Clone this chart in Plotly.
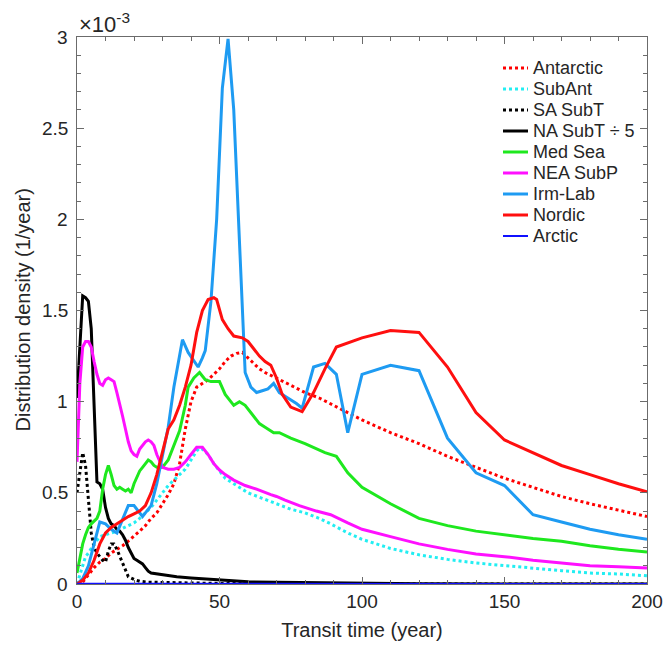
import plotly.graph_objects as go

# ---- data (values in units of 1e-3 per year) ----
antarctic_x = [0,2,4,6,8,10,12,14,16,18,20,22,24,26,28,30,32,34,36,38,40,42,44,46,48,50,52,54,56,58,60,62,64,66,70,75,80,85,90,100,110,120,130,140,150,160,170,180,190,200]
antarctic_y = [0,0.01,0.05,0.09,0.12,0.14,0.17,0.19,0.21,0.235,0.26,0.29,0.32,0.36,0.39,0.44,0.49,0.55,0.66,0.85,1.0,1.08,1.1,1.12,1.15,1.18,1.22,1.25,1.265,1.27,1.24,1.21,1.18,1.16,1.13,1.09,1.05,1.02,0.98,0.9,0.83,0.77,0.7,0.64,0.58,0.53,0.48,0.44,0.405,0.37]

subant_x = [0,1,2,3,4,6,8,10,12,14,16,18,20,22,24,26,28,30,32,34,36,38,40,42,43,44,46,48,50,52,55,60,65,70,75,80,85,89,95,100,110,120,130,140,150,160,170,180,190,200]
subant_y = [0,0.05,0.1,0.15,0.17,0.22,0.26,0.27,0.28,0.29,0.305,0.32,0.335,0.36,0.39,0.42,0.46,0.5,0.54,0.57,0.6,0.63,0.68,0.73,0.745,0.74,0.71,0.66,0.62,0.58,0.55,0.5,0.47,0.44,0.41,0.39,0.36,0.33,0.28,0.245,0.195,0.16,0.135,0.115,0.1,0.085,0.073,0.06,0.055,0.045]

sasubt_x = [0,1,2,3,4,5,6,7,8,9,10,11,12,13,14,15,16,17,18,20,22,25,30,40,50,70,100,200]
sasubt_y = [0.5,0.62,0.72,0.65,0.45,0.28,0.2,0.17,0.15,0.13,0.12,0.18,0.22,0.22,0.19,0.15,0.11,0.07,0.04,0.025,0.015,0.01,0.008,0.005,0.003,0.001,0,0]

nasubt_x = [0,1,2,3,4,5,6,7,8,9,10,11,12,13,14,15,16,17,18,19,20,21,22,23,24,25,26,28,30,35,40,45,50,60,70,80,90,100,110,120,150,200]
nasubt_y = [1.02,1.3,1.58,1.57,1.55,1.4,0.95,0.56,0.55,0.52,0.42,0.36,0.33,0.32,0.3,0.29,0.27,0.24,0.2,0.17,0.14,0.13,0.12,0.11,0.09,0.07,0.06,0.055,0.05,0.04,0.033,0.028,0.02,0.012,0.01,0.008,0.008,0.005,0.002,0.001,0,0]

med_x = [0,1,2,3,4,5,6,7,8,9,10,11,12,13,14,15,16,17,18,19,20,21,22,23,24,25,26,27,28,30,32,34,36,38,39,41,43,45,47,50,52,55,57,59,62,64,66,69,71,75,80,83,87,91,95,100,110,120,130,140,150,160,170,180,190,200]
med_y = [0.06,0.15,0.22,0.27,0.31,0.33,0.345,0.36,0.4,0.52,0.6,0.65,0.6,0.54,0.52,0.53,0.52,0.51,0.52,0.5,0.55,0.59,0.62,0.64,0.66,0.68,0.67,0.65,0.64,0.64,0.68,0.76,0.84,0.98,1.08,1.13,1.16,1.12,1.11,1.11,1.04,0.98,1.0,0.98,0.92,0.88,0.86,0.83,0.83,0.8,0.77,0.75,0.72,0.7,0.61,0.53,0.44,0.36,0.32,0.29,0.27,0.25,0.235,0.21,0.19,0.175]

neasubp_x = [0,1,2,3,4,5,6,7,8,9,10,11,12,13,14,15,16,17,18,19,20,21,22,24,25,26,27,28,29,30,32,34,36,38,40,42,44,46,48,50,52,55,59,63,68,70,73,78,84,89,95,100,110,120,130,140,150,160,170,180,190,200]
neasubp_y = [0.67,1.1,1.3,1.33,1.33,1.3,1.22,1.15,1.1,1.09,1.12,1.13,1.12,1.11,1.05,0.99,0.92,0.85,0.78,0.73,0.71,0.7,0.74,0.78,0.79,0.78,0.76,0.71,0.67,0.64,0.63,0.63,0.64,0.67,0.71,0.75,0.75,0.71,0.66,0.625,0.6,0.57,0.54,0.52,0.49,0.48,0.46,0.43,0.4,0.38,0.335,0.3,0.26,0.22,0.19,0.165,0.15,0.13,0.115,0.1,0.095,0.088]

irm_x = [0,2,4,6,8,10,12,14,16,18,20,22,23,24,26,28,30,32,34,36,37,39,41,42.5,44,45,47,49,51,53,55,57,59,61,63,65,67,69,71,73,75,77,79,83,87,91,95,100,110,120,130,140,150,160,170,180,190,200]
irm_y = [0,0.03,0.1,0.22,0.34,0.33,0.3,0.28,0.36,0.43,0.43,0.39,0.37,0.39,0.43,0.55,0.7,0.86,1.08,1.27,1.34,1.27,1.22,1.19,1.24,1.28,1.55,2.0,2.72,2.99,2.6,1.85,1.16,1.08,1.05,1.06,1.07,1.1,1.05,1.03,1.01,0.99,0.965,1.19,1.21,1.15,0.83,1.15,1.2,1.17,0.8,0.61,0.54,0.38,0.34,0.3,0.27,0.245]

nordic_x = [0,2,4,6,8,10,12,14,16,18,20,22,24,26,28,30,32,34,36,38,40,42,44,46,48,49,51,53,55,58,60,62,64,66,68,70,72,75,79,83,87,91,100,110,120,130,140,150,160,170,180,190,200]
nordic_y = [0,0.02,0.06,0.13,0.22,0.28,0.31,0.33,0.35,0.37,0.385,0.4,0.43,0.5,0.6,0.72,0.85,0.9,0.98,1.08,1.2,1.38,1.5,1.56,1.57,1.56,1.45,1.4,1.36,1.35,1.33,1.29,1.25,1.22,1.2,1.13,1.04,0.97,0.945,1.05,1.18,1.3,1.35,1.39,1.38,1.19,0.94,0.79,0.72,0.65,0.6,0.55,0.505]

arctic_x = [0,50,100,150,200]
arctic_y = [0.002,0.001,0.001,0.0,0.0]

x_ticks = [0, 50, 100, 150, 200]
y_ticks = [0, 0.5, 1, 1.5, 2, 2.5, 3]
y_tick_labels = ["0", "0.5", "1", "1.5", "2", "2.5", "3"]

series = [
    ("Antarctic", antarctic_x, antarctic_y, "#ff0000", "dot", 3),
    ("SubAnt", subant_x, subant_y, "#22eef2", "dot", 3),
    ("SA SubT", sasubt_x, sasubt_y, "#000000", "dot", 3),
    ("NA SubT \u00f7 5", nasubt_x, nasubt_y, "#000000", "solid", 3),
    ("Med Sea", med_x, med_y, "#1ee81e", "solid", 3),
    ("NEA SubP", neasubp_x, neasubp_y, "#ff10ff", "solid", 3),
    ("Irm-Lab", irm_x, irm_y, "#1e9bf2", "solid", 3),
    ("Nordic", nordic_x, nordic_y, "#ff0f0f", "solid", 3),
    ("Arctic", arctic_x, arctic_y, "#1010ff", "solid", 2),
]

FONT = "Arial, Liberation Sans, Helvetica, sans-serif"
TXT = "#262626"
axcol = "#6b6b6b"

# plot-area geometry (pixels) used for the hand-drawn legend
W, H = 665, 650
ML, MR, MT, MB = 77, 18, 37, 66
PW, PH = W - ML - MR, H - MT - MB

def px_to_paper_x(px):
    return (px - ML) / PW

def px_to_paper_y(py):
    return (H - MB - py) / PH

fig = go.Figure()
for name, xs, ys, col, dash, w in series:
    fig.add_trace(go.Scatter(x=xs, y=ys, mode="lines", name=name, showlegend=False,
                             line=dict(color=col, dash=dash, width=w)))

# legend drawn as shapes + annotations (tight MATLAB-like spacing)
leg_top, leg_step = 68, 21
for i, (name, xs, ys, col, dash, w) in enumerate(series):
    yy = px_to_paper_y(leg_top + leg_step * i)
    fig.add_shape(type="line", xref="paper", yref="paper",
                  x0=px_to_paper_x(503), x1=px_to_paper_x(528), y0=yy, y1=yy,
                  line=dict(color=col, dash=dash, width=w))
    fig.add_annotation(xref="paper", yref="paper", x=px_to_paper_x(531), y=yy,
                       xanchor="left", yanchor="middle", text=name, showarrow=False,
                       font=dict(size=18, color=TXT, family=FONT))

# y tick labels placed close to the axis (MATLAB style)
for v, lab in zip(y_ticks, y_tick_labels):
    fig.add_annotation(xref="paper", yref="y", x=0, y=v, xanchor="right", yanchor="middle",
                       text=lab, showarrow=False, xshift=-7,
                       font=dict(size=19, color=TXT, family=FONT))

# y-axis title
fig.add_annotation(xref="paper", yref="paper", x=0, y=0.5, xanchor="center", yanchor="middle",
                   text="Distribution density (1/year)", textangle=-90, showarrow=False,
                   xshift=-55, font=dict(size=20, color=TXT, family=FONT))

fig.update_layout(
    width=W, height=H,
    margin=dict(l=ML, r=MR, t=MT, b=MB, autoexpand=False),
    plot_bgcolor="white", paper_bgcolor="white",
    font=dict(family=FONT, size=19, color=TXT),
    showlegend=False,
    xaxis=dict(range=[0, 200], tickvals=x_ticks, ticks="inside", ticklen=7,
               tickcolor=axcol, showline=True, linecolor=axcol, linewidth=1,
               mirror="ticks", showgrid=False, zeroline=False, automargin=False,
               minor=dict(dtick=10, ticks="inside", ticklen=4, tickcolor=axcol),
               title=dict(text="Transit time (year)", font=dict(size=20), standoff=12),
               tickfont=dict(size=19)),
    yaxis=dict(range=[0, 3], tickvals=y_ticks, showticklabels=False,
               ticks="inside", ticklen=7, tickcolor=axcol, showline=True,
               linecolor=axcol, linewidth=1, mirror="ticks", showgrid=False,
               zeroline=False, automargin=False,
               minor=dict(dtick=0.1, ticks="inside", ticklen=4, tickcolor=axcol)),
)
fig.add_annotation(x=0, y=1, xref="paper", yref="paper", xanchor="left", yanchor="bottom",
                   text="\u00d710<sup>-3</sup>", showarrow=False,
                   font=dict(size=22, color=TXT, family=FONT), xshift=0, yshift=-2)

fig.write_html("out.html", config={"displayModeBar": False},
               post_script="document.body.style.margin='0px';")
